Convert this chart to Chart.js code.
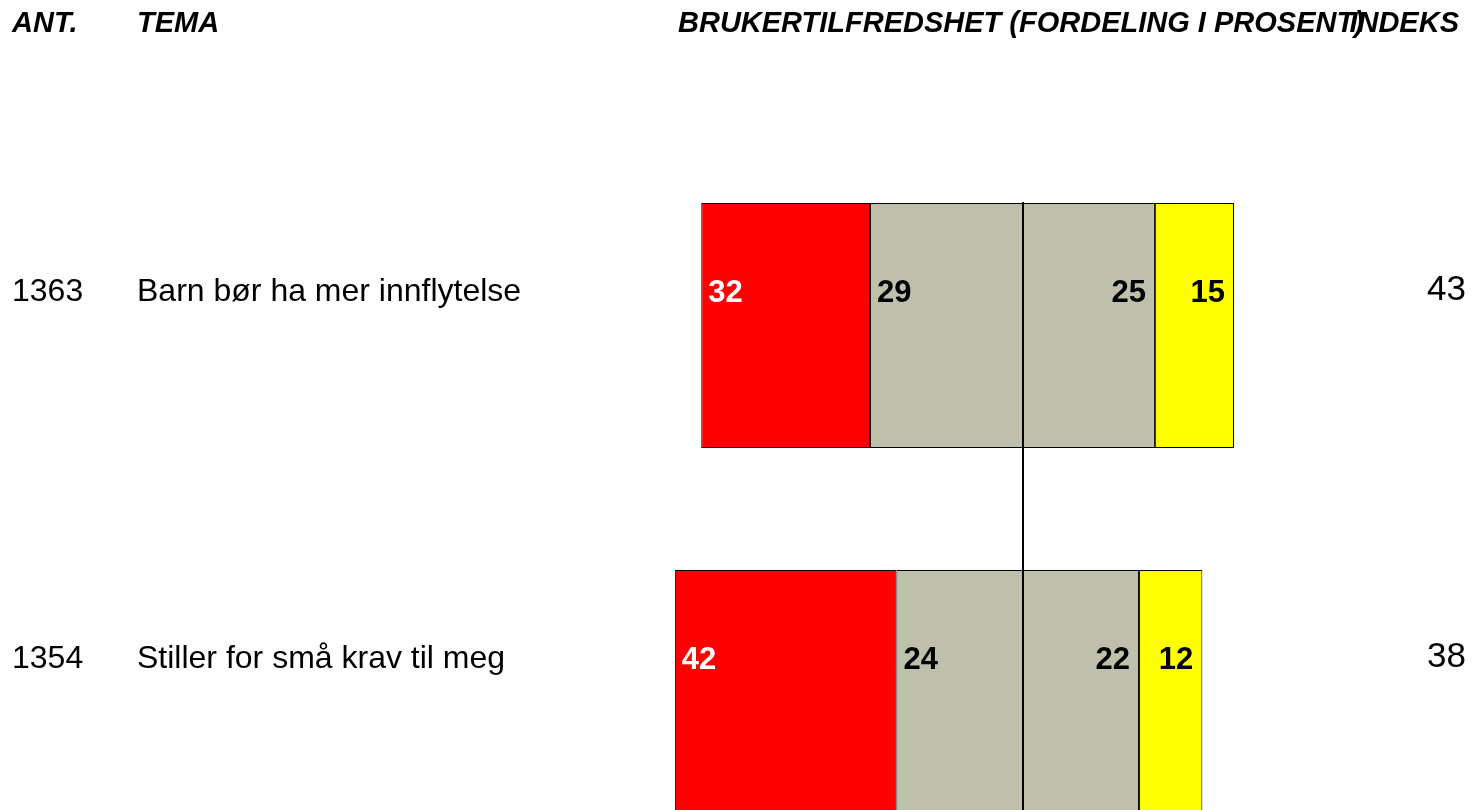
<!DOCTYPE html>
<html>
<head>
<meta charset="utf-8">
<script src="https://cdn.jsdelivr.net/npm/chart.js@4"></script>
<style>
  html, body { margin: 0; padding: 0; background: #fff; overflow: hidden; }
  canvas { display: block; }
</style>
</head>
<body>
<canvas id="myChart" width="1479" height="880"></canvas>
<script>
const temaer = ["Barn bør ha mer innflytelse", "Stiller for små krav til meg"];
const antall = [1363, 1354];
const indeks = [43, 38];
// fordeling i prosent, fra mest negativ til mest positiv
const sterktUenig = [32, 42];
const noeUenig = [29, 24];
const noeEnig = [25, 22];
const sterktEnig = [15, 12];

const RED = '#ff0000';
const GREY = '#bec0ac';
const YELLOW = '#ffff00';
const FONT = "'Liberation Sans', Arial, sans-serif";

// labels, headers and the centre line
const tekstPlugin = {
  id: 'tekst',
  afterDatasetsDraw(chart) {
    const ctx = chart.ctx;
    const xs = chart.scales.x;
    const ys = chart.scales.y;
    ctx.save();

    // centre line at 0
    const x0 = Math.round(xs.getPixelForValue(0));
    const first = chart.getDatasetMeta(0).data[0];
    const top = first.y - first.height / 2 - 1;
    ctx.strokeStyle = '#000';
    ctx.lineWidth = 2;
    ctx.beginPath();
    ctx.moveTo(x0, top);
    ctx.lineTo(x0, chart.height);
    ctx.stroke();

    // value labels inside the bars
    ctx.font = "bold 31px " + FONT;
    ctx.textBaseline = 'alphabetic';
    chart.data.datasets.forEach((ds, di) => {
      const meta = chart.getDatasetMeta(di);
      meta.data.forEach((bar, i) => {
        const v = ds.data[i];
        const left = Math.min(bar.x, bar.base);
        const right = Math.max(bar.x, bar.base);
        const y = bar.y - 24;
        ctx.fillStyle = ds.labelColor;
        if (v < 0) {
          ctx.textAlign = 'left';
          ctx.fillText(String(Math.abs(v)), left + 7, y);
        } else {
          ctx.textAlign = 'right';
          ctx.fillText(String(v), right - 9, y);
        }
      });
    });

    // row texts
    ctx.fillStyle = '#000';
    temaer.forEach((t, i) => {
      const y = ys.getPixelForValue(i) - 25;
      ctx.font = "32px " + FONT;
      ctx.textAlign = 'left';
      ctx.fillText(String(antall[i]), 12, y);
      ctx.fillText(t, 137, y);
      ctx.font = "35px " + FONT;
      ctx.textAlign = 'right';
      ctx.fillText(String(indeks[i]), 1466, y - 1);
    });

    // column headers
    ctx.font = "italic bold 29px " + FONT;
    ctx.textAlign = 'left';
    ctx.fillText('ANT.', 12, 32);
    ctx.fillText('TEMA', 137, 32);
    ctx.fillText('BRUKERTILFREDSHET (FORDELING I PROSENT)', 678, 32);
    ctx.textAlign = 'right';
    ctx.fillText('INDEKS', 1459, 32);

    ctx.restore();
  }
};

const ctx = document.getElementById('myChart').getContext('2d');
const chart = new Chart(ctx, {
  type: 'bar',
  data: {
    labels: temaer,
    datasets: [
      { data: noeUenig.map(v => -v), backgroundColor: GREY, labelColor: '#000' },
      { data: sterktUenig.map(v => -v), backgroundColor: RED, labelColor: '#fff' },
      { data: noeEnig, backgroundColor: GREY, labelColor: '#000' },
      { data: sterktEnig, backgroundColor: YELLOW, labelColor: '#000' }
    ].map(ds => Object.assign(ds, {
      borderColor: '#000',
      borderWidth: 1,
      borderSkipped: false,
      barPercentage: 0.668,
      categoryPercentage: 1
    }))
  },
  options: {
    indexAxis: 'y',
    responsive: false,
    animation: false,
    layout: { padding: { left: 601, right: 34, top: 142, bottom: 4 } },
    scales: {
      x: { display: false, stacked: true, min: -80, max: 80 },
      y: { display: false, stacked: true }
    },
    plugins: {
      legend: { display: false },
      tooltip: { enabled: false }
    }
  },
  plugins: [tekstPlugin]
});
</script>
</body>
</html>
